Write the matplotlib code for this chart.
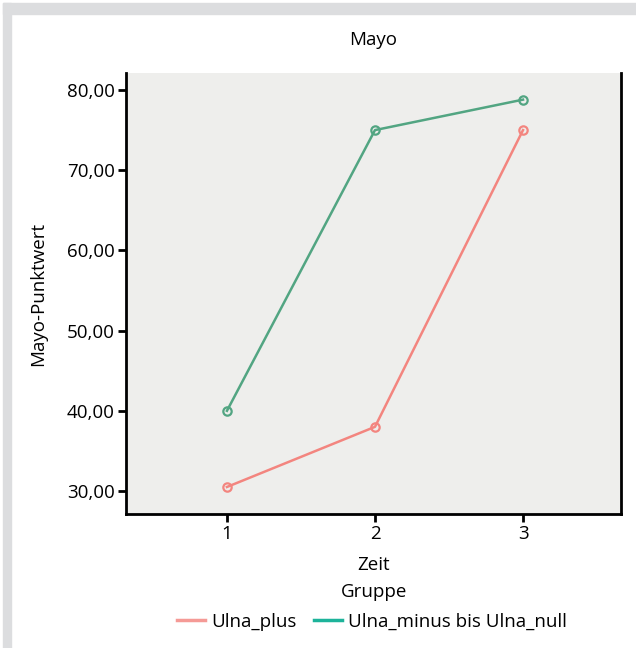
import matplotlib.pyplot as plt
from matplotlib.lines import Line2D
from matplotlib.patches import Rectangle

plt.rcParams['font.family'] = ['Open Sans', 'DejaVu Sans']

# data
zeit = [1, 2, 3]
ulna_plus = [30.5, 38.0, 75.0]
ulna_minus_null = [40.0, 75.0, 78.8]
group_names = ['Ulna_plus', 'Ulna_minus bis Ulna_null']
y_ticks = [30, 40, 50, 60, 70, 80]

red = '#f3857f'
green = '#52a582'
legend_red = '#f59a96'
legend_green = '#1db39a'
fs = 13.5

fig = plt.figure(figsize=(6.36, 6.48), dpi=100)

# light gray frame on the left and top edge
fig.patches.append(Rectangle((3 / 636, 0), 8 / 636, 645 / 648, transform=fig.transFigure,
                             color='#dcdddf', zorder=0))
fig.patches.append(Rectangle((3 / 636, 634 / 648), 633 / 636, 11 / 648, transform=fig.transFigure,
                             color='#dcdddf', zorder=0))

ax = fig.add_axes([126 / 636, 1 - 514 / 648, 495 / 636, 441 / 648])
ax.set_facecolor('#eeeeec')

ax.plot(zeit, ulna_plus, color=red, lw=1.8, marker='o', ms=6, mfc='none', mec=red, mew=1.6)
ax.plot(zeit, ulna_minus_null, color=green, lw=1.8, marker='o', ms=6, mfc='none', mec=green, mew=1.6)

ax.set_xlim(0.318, 3.662)
ax.set_ylim(27.13, 82.12)
ax.set_xticks(zeit)
ax.set_yticks(y_ticks)
ax.set_yticklabels(['%d,00' % v for v in y_ticks])

ax.spines['top'].set_visible(False)
for s in ['left', 'right', 'bottom']:
    ax.spines[s].set_linewidth(2)
ax.tick_params(direction='out', length=6, width=2, labelsize=fs, pad=2)

ax.set_title('Mayo', fontsize=fs, pad=20)
ax.set_ylabel('Mayo-Punktwert', fontsize=fs, labelpad=14)
ax.set_xlabel('Zeit', fontsize=fs, labelpad=9)

fig.text(374 / 636, 1 - 592 / 648, 'Gruppe', ha='center', va='center', fontsize=fs)

handles = [Line2D([], [], color=legend_red, lw=2.5), Line2D([], [], color=legend_green, lw=2.5)]
fig.legend(handles, group_names, loc='center', bbox_to_anchor=(372 / 636, 1 - 622 / 648),
           ncol=2, frameon=False, fontsize=fs, handlelength=1.5, handletextpad=0.35,
           columnspacing=0.9)

fig.savefig('out.png', dpi=100)
